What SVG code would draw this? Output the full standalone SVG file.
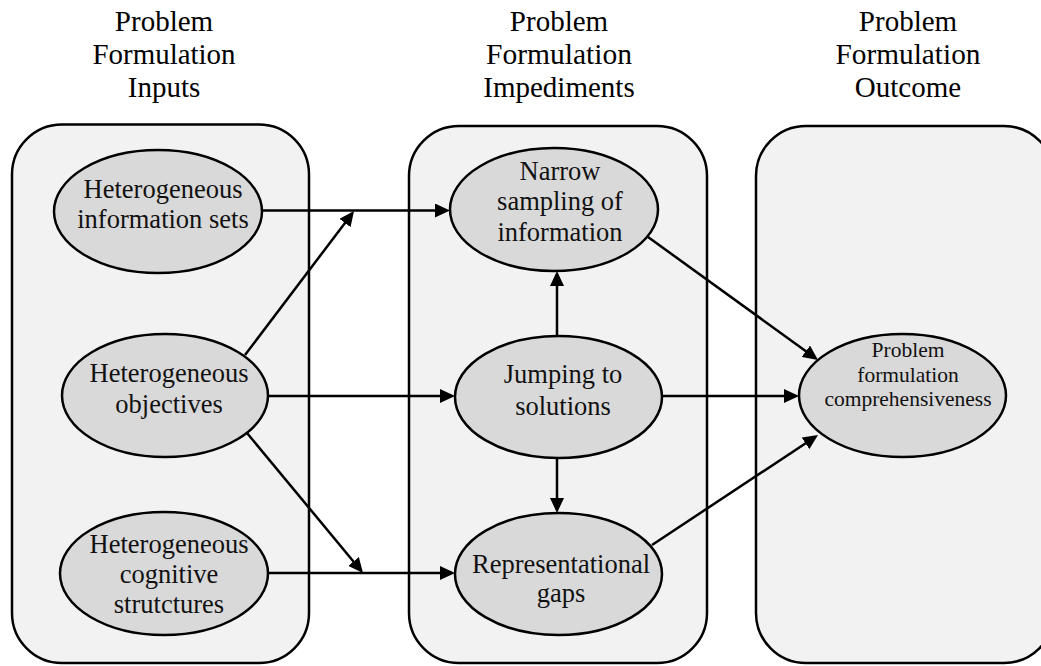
<svg xmlns="http://www.w3.org/2000/svg" width="1041" height="666" viewBox="0 0 1041 666">
  <defs>
    <marker id="arrow" viewBox="0 0 15 14" markerWidth="15" markerHeight="14" refX="12" refY="7" markerUnits="userSpaceOnUse" orient="auto">
      <path d="M0,0 L15,7 L0,14 Z" fill="#000"/>
    </marker>
    <style>
      .panel { fill: #f2f2f2; stroke: #000; stroke-width: 2.5; }
      .node { fill: #d9d9d9; stroke: #000; stroke-width: 2.5; }
      .label { font-family: "Liberation Serif", "Times New Roman", serif; font-size: 26.5px; fill: #111; text-anchor: middle; }
      .small { font-size: 21.5px; }
      .head { font-family: "Liberation Serif", "Times New Roman", serif; font-size: 29px; fill: #000; text-anchor: middle; }
      .edge { stroke: #000; stroke-width: 2.5; fill: none; marker-end: url(#arrow); }
    </style>
  </defs>
  <rect width="1041" height="666" fill="#fff"/>

  <!-- column headings -->
  <g id="heading-inputs">
    <text class="head" x="164" y="31">Problem</text>
    <text class="head" x="164" y="64" textLength="143" lengthAdjust="spacingAndGlyphs">Formulation</text>
    <text class="head" x="164" y="97">Inputs</text>
  </g>
  <g id="heading-impediments">
    <text class="head" x="559" y="31">Problem</text>
    <text class="head" x="559" y="64" textLength="146" lengthAdjust="spacingAndGlyphs">Formulation</text>
    <text class="head" x="559" y="97">Impediments</text>
  </g>
  <g id="heading-outcome">
    <text class="head" x="908" y="31">Problem</text>
    <text class="head" x="908" y="64" textLength="145" lengthAdjust="spacingAndGlyphs">Formulation</text>
    <text class="head" x="908" y="97">Outcome</text>
  </g>

  <!-- column panels -->
  <g id="panels">
    <rect id="panel-inputs" class="panel" x="12" y="124.5" width="297" height="538.5" rx="50" ry="50"/>
    <rect id="panel-impediments" class="panel" x="409" y="126" width="298" height="537" rx="50" ry="50"/>
    <rect id="panel-outcome" class="panel" x="756" y="126" width="298" height="537" rx="50" ry="50"/>
  </g>

  <!-- connectors -->
  <g id="connectors">
    <line class="edge" x1="262" y1="210.5" x2="447" y2="210.5"/>
    <line class="edge" x1="245" y1="355" x2="352.2" y2="213.4"/>
    <line class="edge" x1="268" y1="396" x2="452" y2="396"/>
    <line class="edge" x1="247" y1="433" x2="361.1" y2="570.7"/>
    <line class="edge" x1="268" y1="573" x2="452" y2="573"/>
    <line class="edge" x1="557" y1="336" x2="557" y2="274"/>
    <line class="edge" x1="557" y1="458" x2="557" y2="510"/>
    <line class="edge" x1="648" y1="237" x2="815.6" y2="358.2"/>
    <line class="edge" x1="662" y1="396" x2="796" y2="396"/>
    <line class="edge" x1="652" y1="545" x2="815.5" y2="436.7"/>
  </g>

  <!-- input nodes -->
  <g id="node-info-sets">
    <ellipse class="node" cx="158" cy="211.5" rx="104" ry="61.5"/>
    <text class="label" x="163" y="198">Heterogeneous</text>
    <text class="label" x="163" y="228">information sets</text>
  </g>
  <g id="node-objectives">
    <ellipse class="node" cx="165" cy="395.5" rx="103" ry="61.5"/>
    <text class="label" x="169" y="382">Heterogeneous</text>
    <text class="label" x="169" y="413">objectives</text>
  </g>
  <g id="node-cognitive">
    <ellipse class="node" cx="164" cy="573.5" rx="104" ry="61.5"/>
    <text class="label" x="169" y="553">Heterogeneous</text>
    <text class="label" x="169" y="583">cognitive</text>
    <text class="label" x="169" y="613">strutctures</text>
  </g>

  <!-- impediment nodes -->
  <g id="node-narrow-sampling">
    <ellipse class="node" cx="554" cy="209.5" rx="104" ry="61.5"/>
    <text class="label" x="560" y="180">Narrow</text>
    <text class="label" x="560" y="210">sampling of</text>
    <text class="label" x="560" y="241">information</text>
  </g>
  <g id="node-jumping">
    <ellipse class="node" cx="558.5" cy="397" rx="103.5" ry="61"/>
    <text class="label" x="563" y="383">Jumping to</text>
    <text class="label" x="563" y="415">solutions</text>
  </g>
  <g id="node-representational">
    <ellipse class="node" cx="558.5" cy="574" rx="103.5" ry="61"/>
    <text class="label" x="561" y="573">Representational</text>
    <text class="label" x="561" y="602">gaps</text>
  </g>

  <!-- outcome node -->
  <g id="node-comprehensiveness">
    <ellipse class="node" cx="902.5" cy="395.5" rx="103.5" ry="61.5"/>
    <text class="label small" x="908" y="357">Problem</text>
    <text class="label small" x="908" y="382">formulation</text>
    <text class="label small" x="908" y="406">comprehensiveness</text>
  </g>
</svg>
